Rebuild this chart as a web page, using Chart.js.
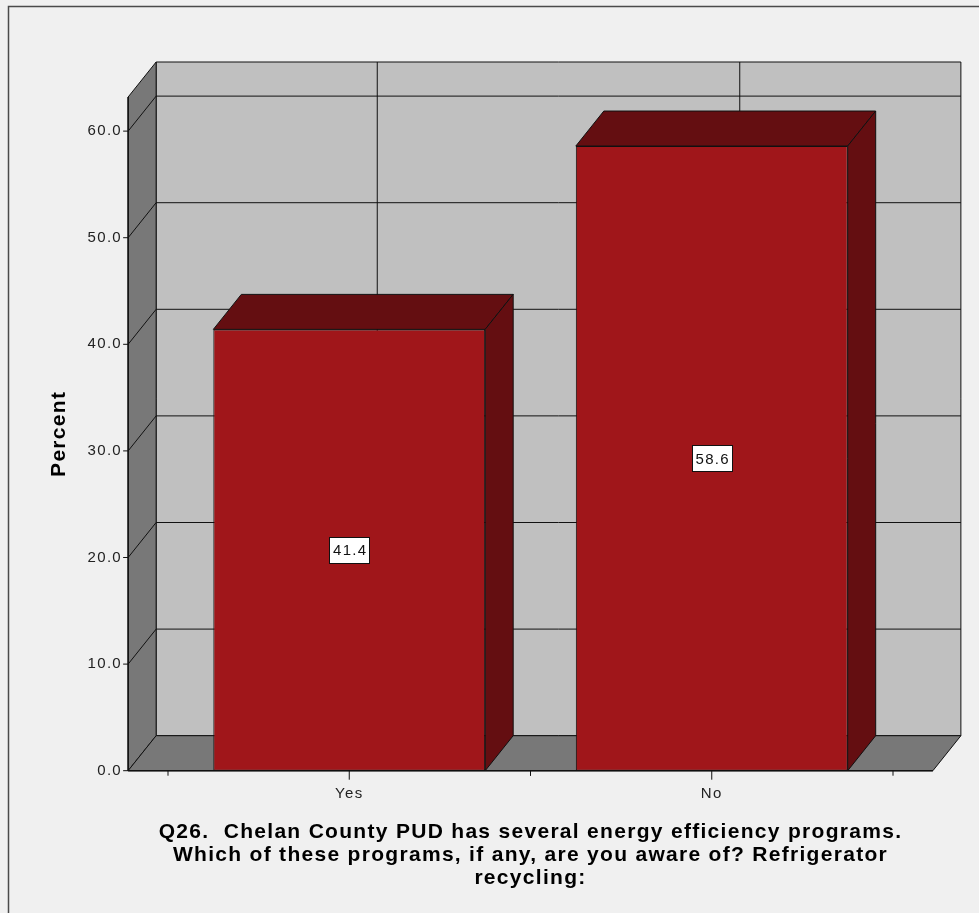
<!DOCTYPE html>
<html>
<head>
<meta charset="utf-8">
<script src="https://cdn.jsdelivr.net/npm/chart.js@4.4.0/dist/chart.umd.min.js"></script>
<style>
  html, body { margin: 0; padding: 0; background: #f0f0f0; }
  #wrap { width: 979px; height: 913px; }
</style>
</head>
<body>
<div id="wrap"><canvas id="chart" width="979" height="913"></canvas></div>
<script>
const categories = ['Yes', 'No'];
const percentValues = [41.4, 58.6];
const yTickValues = [0, 10, 20, 30, 40, 50, 60];
const yAxisMax = 63.2;
const yAxisTitle = 'Percent';
const xAxisTitle = [
  'Q26.  Chelan County PUD has several energy efficiency programs.',
  'Which of these programs, if any, are you aware of? Refrigerator',
  'recycling:'
];

// depth of the fake 3D box
const DX = 28, DY = -35;
const FONT = "'Liberation Sans', Arial, sans-serif";

function poly(ctx, pts, fill) {
  ctx.beginPath();
  ctx.moveTo(pts[0][0], pts[0][1]);
  for (let i = 1; i < pts.length; i++) ctx.lineTo(pts[i][0], pts[i][1]);
  ctx.closePath();
  if (fill) { ctx.fillStyle = fill; ctx.fill(); }
  ctx.stroke();
}

function line(ctx, x1, y1, x2, y2) {
  ctx.beginPath();
  ctx.moveTo(x1, y1);
  ctx.lineTo(x2, y2);
  ctx.stroke();
}

const box3d = {
  id: 'box3d',
  beforeDraw(chart) {
    const ctx = chart.ctx;
    ctx.letterSpacing = '1.3px';
    ctx.save();
    ctx.fillStyle = '#f0f0f0';
    ctx.fillRect(0, 0, chart.width, chart.height);
    ctx.strokeStyle = '#4a4a4a';
    ctx.lineWidth = 1.5;
    ctx.beginPath();
    ctx.moveTo(8.5, chart.height);
    ctx.lineTo(8.5, 6.5);
    ctx.lineTo(chart.width, 6.5);
    ctx.stroke();
    ctx.restore();
  },
  beforeDatasetsDraw(chart) {
    const { ctx, scales: { x, y } } = chart;
    const cw = x.getPixelForValue(1) - x.getPixelForValue(0);
    const L = x.left - cw * 0.11;
    const R = x.right + cw * 0.11;
    const y0 = y.getPixelForValue(0);
    const yt = y.top;

    ctx.save();
    ctx.strokeStyle = '#111';
    ctx.lineWidth = 1;
    ctx.lineJoin = 'miter';

    // back wall
    poly(ctx, [[L + DX, yt + DY], [R + DX, yt + DY], [R + DX, y0 + DY], [L + DX, y0 + DY]], '#c0c0c0');
    // left wall
    poly(ctx, [[L, yt], [L + DX, yt + DY], [L + DX, y0 + DY], [L, y0]], '#787878');
    // floor
    poly(ctx, [[L, y0], [L + DX, y0 + DY], [R + DX, y0 + DY], [R, y0]], '#787878');

    // grid lines
    yTickValues.forEach(v => {
      if (v === 0) return;
      const py = y.getPixelForValue(v);
      line(ctx, L + DX, py + DY, R + DX, py + DY);
      line(ctx, L, py, L + DX, py + DY);
    });
    categories.forEach((c, i) => {
      const px = x.getPixelForValue(i) + DX;
      line(ctx, px, yt + DY, px, y0 + DY);
    });

    // front axis edges
    ctx.lineWidth = 1.5;
    line(ctx, L, yt, L, y0);
    line(ctx, L, y0, R, y0);

    // tick marks
    ctx.lineWidth = 1;
    yTickValues.forEach(v => {
      const py = y.getPixelForValue(v);
      line(ctx, L - 5, py, L, py);
    });
    categories.forEach((c, i) => {
      const px = x.getPixelForValue(i);
      line(ctx, px, y0, px, y0 + 9);
      line(ctx, px - cw / 2, y0, px - cw / 2, y0 + 5);
      line(ctx, px + cw / 2, y0, px + cw / 2, y0 + 5);
    });
    ctx.restore();
  },
  afterDatasetsDraw(chart) {
    const { ctx, scales: { y } } = chart;
    const meta = chart.getDatasetMeta(0);
    ctx.save();
    ctx.strokeStyle = '#111';
    ctx.lineWidth = 1;
    meta.data.forEach((bar, i) => {
      const p = bar.getProps(['x', 'y', 'base', 'width'], true);
      const l = p.x - p.width / 2, r = p.x + p.width / 2;
      poly(ctx, [[l, p.y], [l + DX, p.y + DY], [r + DX, p.y + DY], [r, p.y]], '#640e11');
      poly(ctx, [[r, p.y], [r + DX, p.y + DY], [r + DX, p.base + DY], [r, p.base]], '#640e11');

      // value label box
      const v = percentValues[i];
      const ly = y.getPixelForValue(v / 2);
      const txt = v.toFixed(1);
      ctx.font = '15px ' + FONT;
      const tw = ctx.measureText(txt).width;
      const bw = Math.round(tw + 6), bh = 26;
      ctx.fillStyle = '#ffffff';
      ctx.fillRect(Math.round(p.x - bw / 2) + 0.5, Math.round(ly - bh / 2) + 0.5, bw, bh);
      ctx.strokeRect(Math.round(p.x - bw / 2) + 0.5, Math.round(ly - bh / 2) + 0.5, bw, bh);
      ctx.fillStyle = '#111';
      ctx.textAlign = 'center';
      ctx.textBaseline = 'middle';
      ctx.fillText(txt, p.x + 1, ly + 1);
    });
    ctx.restore();
  },
  afterDraw(chart) {
    // category axis title, drawn here so it is not squeezed to the plot width
    const { ctx, chartArea } = chart;
    const cx = (chartArea.left + chartArea.right) / 2;
    ctx.save();
    ctx.font = 'bold 21px ' + FONT;
    ctx.fillStyle = '#000';
    ctx.textAlign = 'center';
    ctx.textBaseline = 'middle';
    xAxisTitle.forEach((t, i) => {
      ctx.fillText(t, cx, 832 + i * 23);
    });
    ctx.restore();
  }
};

new Chart(document.getElementById('chart'), {
  type: 'bar',
  data: {
    labels: categories,
    datasets: [{
      data: percentValues,
      backgroundColor: '#a0161a',
      borderColor: '#111',
      borderWidth: 1,
      borderSkipped: false,
      barPercentage: 0.75,
      categoryPercentage: 1
    }]
  },
  options: {
    responsive: false,
    animation: false,
    devicePixelRatio: 1,
    layout: { padding: { left: 0, right: 86, top: 97, bottom: 0 } },
    plugins: {
      legend: { display: false },
      tooltip: { enabled: false }
    },
    scales: {
      x: {
        offset: true,
        grid: { display: false, drawTicks: false },
        border: { display: false },
        ticks: { color: '#222', padding: 14, font: { family: FONT, size: 15 } },
        title: { display: false },
        afterFit: (scale) => { scale.height = 142.3; }
      },
      y: {
        min: 0,
        max: yAxisMax,
        grid: { display: false, drawTicks: false },
        border: { display: false },
        ticks: {
          stepSize: 10,
          color: '#222',
          padding: 46,
          font: { family: FONT, size: 15 },
          callback: (v) => Number(v).toFixed(1)
        },
        afterBuildTicks: (scale) => {
          scale.ticks = yTickValues.map(v => ({ value: v }));
        },
        title: {
          display: true,
          text: yAxisTitle,
          color: '#000',
          padding: { top: 47, bottom: 0 },
          font: { family: FONT, size: 21, weight: 'bold', lineHeight: 1.2 }
        },
        afterFit: (scale) => { scale.width = 168; }
      }
    }
  },
  plugins: [box3d]
});
</script>
</body>
</html>
